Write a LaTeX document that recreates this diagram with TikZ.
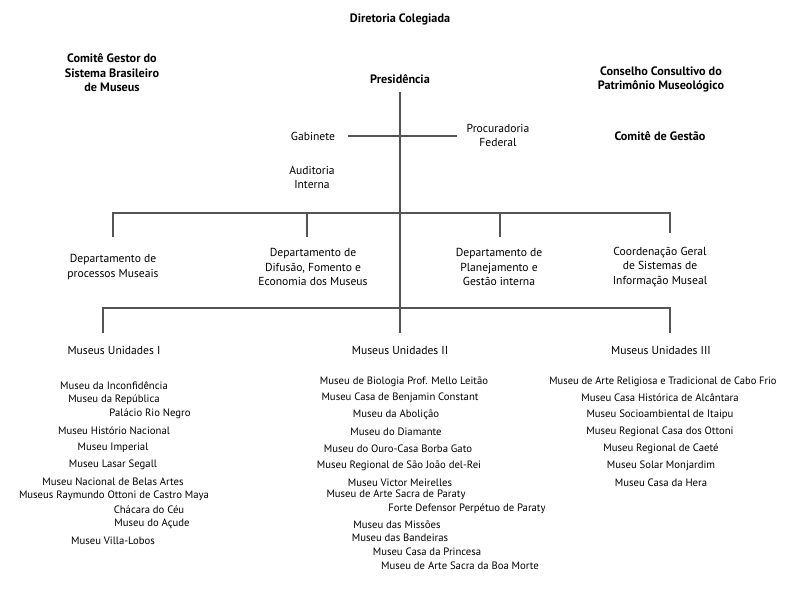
\documentclass[tikz,border=0pt]{standalone}
\usepackage{fontspec}
\setmainfont{PT Sans}
\begin{document}
\begin{tikzpicture}[x=1pt,y=-1pt,
  txt/.style={inner sep=0pt,align=center,font=\fontsize{11.6}{14.5}\selectfont},
  bold/.style={txt,font=\fontsize{12.2}{14.5}\selectfont\bfseries},
  item/.style={inner sep=0pt,font=\fontsize{10.7}{11}\selectfont},
  wire/.style={draw={rgb,255:red,85;green,85;blue,85},line width=1.3pt}]
\useasboundingbox (0,0) rectangle (800,600);
% top titles
\node[bold] (dir) at (400,19) {Diretoria Colegiada};
\node[bold] (cg) at (112,73) {Comitê Gestor do\\Sistema Brasileiro\\de Museus};
\node[bold] (pres) at (400,79) {Presidência};
\node[bold] (cc) at (661,79.5) {Conselho Consultivo do\\Patrimônio Museológico};
\node[bold] (cgest) at (660,136) {Comitê de Gestão};
\node[txt] (gab) at (313,136) {Gabinete};
\node[txt] (proc) at (498,135.5) {Procuradoria\\Federal};
\node[txt] (aud) at (312,177.5) {Auditoria\\Interna};
% departments
\node[txt] (d1) at (113,267) {Departamento de\\processos Museais};
\node[txt] (d2) at (313,267) {Departamento de\\Difusão, Fomento e\\Economia dos Museus};
\node[txt] (d3) at (499,267) {Departamento de\\Planejamento e\\Gestão interna};
\node[txt] (d4) at (660,267) {Coordenação Geral\\de Sistemas de\\Informação Museal};
% units
\node[txt] (u1) at (114,350) {Museus Unidades I};
\node[txt] (u2) at (400,350) {Museus Unidades II};
\node[txt] (u3) at (661,350) {Museus Unidades III};
% connectors
\coordinate (top) at (400,92);
\coordinate (bot) at (400,333);
\coordinate (gl) at (348,136);
\coordinate (gr) at (457,136);
\coordinate (b1l) at (113,213);
\coordinate (b1r) at (670,213);
\coordinate (b2l) at (103,308);
\coordinate (b2r) at (670,308);
\coordinate (t1) at (113,237);
\coordinate (t4) at (670,233);
\coordinate (j2) at (307,213);
\coordinate (t2) at (307,237);
\coordinate (j3) at (500,213);
\coordinate (t3) at (500,237);
\coordinate (s1) at (103,333);
\coordinate (s3) at (670,333);
\draw[wire] (top) -- (bot);
\draw[wire] (gl) -- (gr);
\draw[wire] (t1) -- (b1l) -- (b1r) -- (t4);
\draw[wire] (j2) -- (t2);
\draw[wire] (j3) -- (t3);
\draw[wire] (s1) -- (b2l) -- (b2r) -- (s3);
% list I
\node[item] (m1a) at (114,386) {Museu da Inconfidência};
\node[item] (m1b) at (114,400) {Museu da República};
\node[item] (m1c) at (150,414) {Palácio Rio Negro};
\node[item] (m1d) at (114,431) {Museu Histório Nacional};
\node[item] (m1e) at (113,448) {Museu Imperial};
\node[item] (m1f) at (113,465) {Museu Lasar Segall};
\node[item] (m1g) at (113,482) {Museu Nacional de Belas Artes};
\node[item] (m1h) at (114,496) {Museus Raymundo Ottoni de Castro Maya};
\node[item] (m1i) at (149,510) {Chácara do Céu};
\node[item] (m1j) at (152,524) {Museu do Açude};
\node[item] (m1k) at (113,541) {Museu Villa-Lobos};
% list II
\node[item] (m2a) at (404,382) {Museu de Biologia Prof. Mello Leitão};
\node[item] (m2b) at (400,398) {Museu Casa de Benjamin Constant};
\node[item] (m2c) at (396,415) {Museu da Abolição};
\node[item] (m2d) at (396,432) {Museu do Diamante};
\node[item] (m2e) at (398,449) {Museu do Ouro-Casa Borba Gato};
\node[item] (m2f) at (399,466) {Museu Regional de São João del-Rei};
\node[item] (m2g) at (400,483) {Museu Victor Meirelles};
\node[item] (m2h) at (396,495) {Museu de Arte Sacra de Paraty};
\node[item] (m2i) at (467,509) {Forte Defensor Perpétuo de Paraty};
\node[item] (m2j) at (397,525) {Museu das Missões};
\node[item] (m2k) at (400,538) {Museu das Bandeiras};
\node[item] (m2l) at (427,552) {Museu Casa da Princesa};
\node[item] (m2m) at (460,566) {Museu de Arte Sacra da Boa Morte};
% list III
\node[item,xscale=0.98] (m3a) at (663,382) {Museu de Arte Religiosa e Tradicional de Cabo Frio};
\node[item] (m3b) at (660,398) {Museu Casa Histórica de Alcântara};
\node[item] (m3c) at (660,415) {Museu Socioambiental de Itaipu};
\node[item] (m3d) at (660,432) {Museu Regional Casa dos Ottoni};
\node[item] (m3e) at (661,449) {Museu Regional de Caeté};
\node[item] (m3f) at (661,466) {Museu Solar Monjardim};
\node[item] (m3g) at (661,483) {Museu Casa da Hera};
\end{tikzpicture}
\end{document}
